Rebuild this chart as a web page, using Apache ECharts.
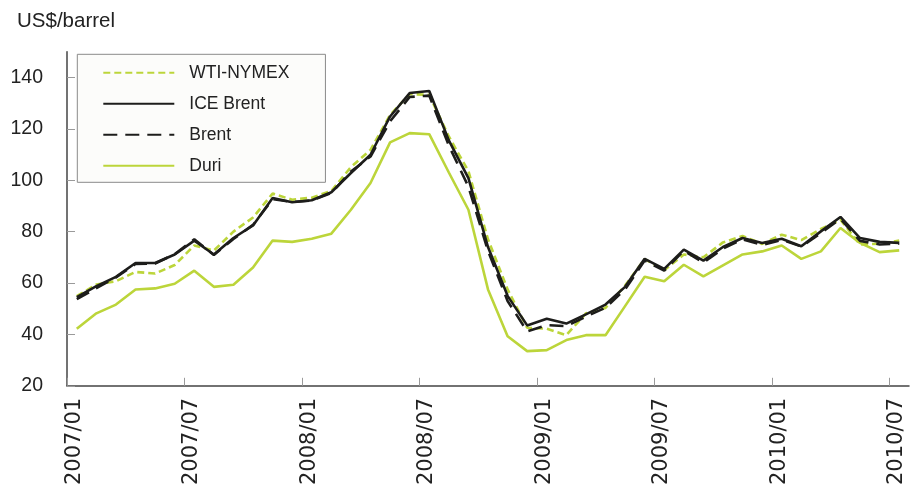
<!DOCTYPE html>
<html>
<head>
<meta charset="utf-8">
<script src="https://cdn.jsdelivr.net/npm/echarts@6/dist/echarts.min.js"></script>
<style>
html,body{margin:0;padding:0;background:#fff;}
#c{width:914px;height:489px;}
</style>
</head>
<body>
<div id="c"></div>
<script>
const months = [
 '2007/01','2007/02','2007/03','2007/04','2007/05','2007/06','2007/07','2007/08','2007/09','2007/10','2007/11','2007/12',
 '2008/01','2008/02','2008/03','2008/04','2008/05','2008/06','2008/07','2008/08','2008/09','2008/10','2008/11','2008/12',
 '2009/01','2009/02','2009/03','2009/04','2009/05','2009/06','2009/07','2009/08','2009/09','2009/10','2009/11','2009/12',
 '2010/01','2010/02','2010/03','2010/04','2010/05','2010/06','2010/07'
];
const wti = [54.9,59.4,60.7,64.3,63.7,67.0,74.6,72.6,80.0,85.5,94.8,92.4,
 93.2,95.8,105.1,111.8,125.4,133.5,133.2,117.0,103.5,77.0,57.5,42.6,
 42.2,39.7,48.2,50.3,59.0,69.3,65.0,71.1,70.0,75.8,78.3,75.2,
 78.8,76.7,81.0,84.6,75.0,75.3,76.5];
const iceBrent = [54.5,58.8,62.4,67.8,67.8,71.1,76.5,71.1,77.5,82.4,93.1,91.4,
 92.2,95.3,102.8,109.9,124.8,133.9,134.7,115.5,100.8,74.0,55.0,43.5,
 46.1,44.2,47.8,51.6,58.5,69.4,65.5,73.0,68.7,74.0,77.5,75.6,
 77.2,74.3,80.1,85.7,77.5,76.0,75.6];
const brent = [53.7,58.0,62.2,67.4,67.6,71.2,77.0,70.9,77.1,82.6,92.6,91.5,
 92.1,95.0,103.4,109.2,122.9,132.4,132.9,113.5,97.5,72.5,53.0,41.2,
 43.6,43.2,46.9,50.4,57.5,68.7,64.8,72.6,67.9,73.4,77.0,74.8,
 76.8,74.2,79.4,85.0,76.4,75.0,75.3];
const duri = [42.2,48.2,51.6,57.5,57.9,59.7,64.8,58.5,59.3,66.0,76.5,76.0,
 77.2,79.2,88.5,98.9,114.7,118.3,117.9,103.0,88.5,57.5,39.3,33.5,
 33.9,37.8,39.7,39.7,51.0,62.4,60.7,67.1,62.6,66.9,71.1,72.3,
 74.6,69.4,72.3,81.4,75.6,72.0,72.7];
const xTickIdx = [0,6,12,18,24,30,36,42];
const yTicks = [20,40,60,80,100,120,140];
const seriesNames = ['WTI-NYMEX','ICE Brent','Brent','Duri'];

const GREEN = '#bcd53a';
const BLACK = '#1d1d1b';
const pts = arr => arr.map((v,i)=>[i+0.5, v]);

const chart = echarts.init(document.getElementById('c'), null, {renderer:'canvas'});
chart.setOption({
  animation:false,
  backgroundColor:'#fff',
  title:{
    text:'US$/barrel', left:12, top:6,
    textStyle:{fontFamily:'Liberation Sans', fontSize:20.5, fontWeight:'normal', color:'#222'}
  },
  grid:{left:67, right:5, top:51.7, bottom:103.2, containLabel:false},
  legend:{
    orient:'vertical', left:77.3, top:54.3,
    data:seriesNames,
    padding:[8.4,36,6.6,25],
    itemWidth:71, itemHeight:14, itemGap:11,
    itemStyle:{opacity:0},
    backgroundColor:'#fcfcfa', borderColor:'#8a8a8a', borderWidth:1, borderRadius:0,
    textStyle:{fontFamily:'Liberation Sans', fontSize:17.5, color:'#222', lineHeight:20, padding:[0,0,0,10]}
  },
  xAxis:{
    type:'value', min:0, max:43, interval:6,
    axisLine:{lineStyle:{color:'#444', width:1.5}},
    axisTick:{inside:true, length:8, lineStyle:{color:'#9a9a9a'}, customValues:xTickIdx},
    axisLabel:{
      customValues:xTickIdx,
      rotate:90, margin:12,
      verticalAlign:'top', lineHeight:15,
      fontFamily:'DejaVu Sans', fontSize:21, color:'#222',
      formatter: v => months[v] || ''
    },
    splitLine:{show:false}
  },
  yAxis:{
    type:'value', min:20, max:150, interval:20,
    axisLine:{show:true, lineStyle:{color:'#444', width:1.5}},
    axisTick:{show:true, inside:true, length:8, lineStyle:{color:'#9a9a9a'}, customValues:yTicks},
    axisLabel:{customValues:yTicks, margin:24, fontFamily:'Liberation Sans', fontSize:19.5, color:'#222',
      formatter: v => (v>140 ? '' : String(v))},
    splitLine:{show:false}
  },
  series:[
    {name:'Duri', type:'line', data:pts(duri), symbol:'none', z:2,
      lineStyle:{color:GREEN, width:2.6}, itemStyle:{color:GREEN}},
    {name:'WTI-NYMEX', type:'line', data:pts(wti), symbol:'none', z:3,
      lineStyle:{color:GREEN, width:2.6, type:[7,4]}, itemStyle:{color:GREEN}},
    {name:'Brent', type:'line', data:pts(brent), symbol:'none', z:4,
      lineStyle:{color:BLACK, width:2.6, type:[14,8]}, itemStyle:{color:BLACK}},
    {name:'ICE Brent', type:'line', data:pts(iceBrent), symbol:'none', z:5,
      lineStyle:{color:BLACK, width:2.6}, itemStyle:{color:BLACK}}
  ]
});
</script>
</body>
</html>
